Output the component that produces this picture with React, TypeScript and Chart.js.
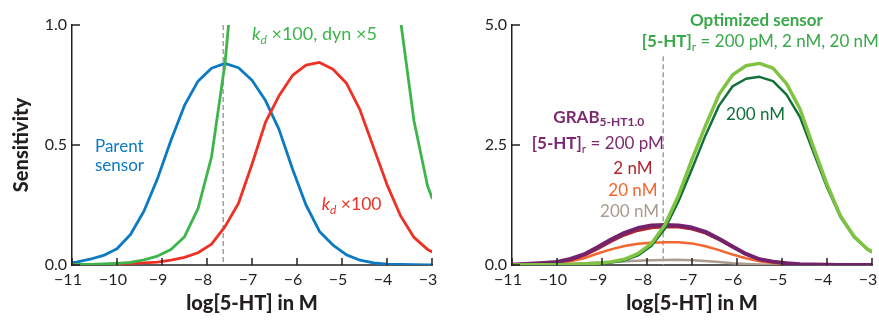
import React, { useEffect, useRef } from "react";
import { Chart, registerables } from "chart.js";

Chart.register(...registerables);

const FONT = "Lato, 'Open Sans', sans-serif";

// log10 of 5-HT concentration (M)
const LOG_CONC = [-11, -10.9, -10.6, -10.3, -10.0, -9.7, -9.4, -9.1, -8.8, -8.5, -8.2, -7.9, -7.6, -7.3, -7.0, -6.7, -6.4, -6.1, -5.8, -5.5, -5.2, -4.9, -4.6, -4.3, -4.0, -3.7, -3.4, -3.1, -3.0];

// Left panel
const PARENT = [0.01, 0.012, 0.024, 0.04, 0.068, 0.127, 0.225, 0.36, 0.52, 0.665, 0.766, 0.82, 0.84, 0.822, 0.77, 0.685, 0.565, 0.4, 0.25, 0.14, 0.083, 0.042, 0.02, 0.009, 0.004, 0.002, 0.001, 0, 0];
const KD100 = [0, 0.001, 0.002, 0.003, 0.005, 0.007, 0.009, 0.012, 0.02, 0.032, 0.051, 0.087, 0.16, 0.257, 0.42, 0.595, 0.705, 0.79, 0.833, 0.844, 0.816, 0.757, 0.646, 0.49, 0.335, 0.205, 0.115, 0.065, 0.055];
const KD100_DYN5 = [0, 0.002, 0.003, 0.005, 0.007, 0.011, 0.021, 0.037, 0.065, 0.118, 0.235, 0.45, 0.84, 1.45, 2.2, 2.9, 3.55, 3.96, 4.15, 4.2, 4.1, 3.78, 3.25, 2.45, 1.68, 1.02, 0.6, 0.33, 0.28];

// Right panel
const OPT_LOW = [0, 0.002, 0.003, 0.005, 0.007, 0.011, 0.021, 0.037, 0.065, 0.118, 0.235, 0.45, 0.84, 1.45, 2.2, 2.9, 3.55, 3.96, 4.15, 4.2, 4.1, 3.78, 3.25, 2.45, 1.68, 1.02, 0.6, 0.33, 0.28];
const OPT_200NM = [0, 0.001, 0.002, 0.003, 0.005, 0.008, 0.015, 0.028, 0.05, 0.095, 0.2, 0.4, 0.76, 1.33, 2.0, 2.7, 3.32, 3.72, 3.88, 3.92, 3.83, 3.55, 3.08, 2.35, 1.62, 1.0, 0.58, 0.32, 0.27];
const GRAB_200PM = [0.01, 0.012, 0.024, 0.042, 0.065, 0.125, 0.22, 0.37, 0.53, 0.67, 0.77, 0.825, 0.835, 0.825, 0.78, 0.69, 0.545, 0.385, 0.23, 0.12, 0.07, 0.035, 0.017, 0.008, 0.004, 0.002, 0.001, 0, 0];
const GRAB_2NM = [0.008, 0.01, 0.02, 0.036, 0.058, 0.11, 0.2, 0.335, 0.49, 0.625, 0.72, 0.775, 0.795, 0.79, 0.75, 0.665, 0.53, 0.375, 0.225, 0.118, 0.068, 0.034, 0.016, 0.008, 0.004, 0.002, 0.001, 0, 0];
const GRAB_20NM = [0.005, 0.008, 0.015, 0.025, 0.045, 0.08, 0.14, 0.24, 0.325, 0.395, 0.443, 0.465, 0.475, 0.475, 0.45, 0.39, 0.31, 0.22, 0.14, 0.08, 0.04, 0.018, 0.008, 0.004, 0.002, 0.001, 0, 0, 0];
const GRAB_200NM = [0, 0.002, 0.005, 0.008, 0.015, 0.025, 0.035, 0.05, 0.065, 0.078, 0.09, 0.1, 0.105, 0.108, 0.1, 0.085, 0.06, 0.035, 0.02, 0.01, 0.005, 0.002, 0.001, 0, 0, 0, 0, 0, 0];

// Reference line (ambient 5-HT)
const REF_LOG = -7.64;

const X_MIN = -11;
const X_MAX = -3;
const X_TICKS = [-11, -10, -9, -8, -7, -6, -5, -4, -3];
const LEFT_Y_TICKS = [0, 0.5, 1.0];
const RIGHT_Y_TICKS = [0, 2.5, 5.0];

type Seg = { t: string; b?: boolean; i?: boolean; sub?: boolean };
type Note = { x: number; y: number; color: string; size: number; segs: Seg[] };

const LEFT_NOTES: Note[] = [
  { x: -10.49, y: 0.471, color: "#0b7ac2", size: 17, segs: [{ t: "Parent" }] },
  { x: -10.49, y: 0.39, color: "#0b7ac2", size: 17, segs: [{ t: "sensor" }] },
  { x: -7.0, y: 0.9375, color: "#3db54a", size: 18, segs: [{ t: "k", i: true }, { t: "d", i: true, sub: true }, { t: " \u00d7100, dyn \u00d75" }] },
  { x: -5.45, y: 0.229, color: "#ee3124", size: 17.5, segs: [{ t: "k", i: true }, { t: "d", i: true, sub: true }, { t: " \u00d7100" }] },
];

const RIGHT_NOTES: Note[] = [
  { x: -7.044, y: 4.98, color: "#3aa84a", size: 17, segs: [{ t: "Optimized sensor", b: true }] },
  { x: -8.118, y: 4.54, color: "#3aa84a", size: 17, segs: [{ t: "[5-HT]", b: true }, { t: "r", sub: true }, { t: " = 200 pM, 2 nM, 20 nM" }] },
  { x: -6.244, y: 3.02, color: "#12703a", size: 17, segs: [{ t: "200 nM" }] },
  { x: -10.082, y: 2.965, color: "#7b2a70", size: 17, segs: [{ t: "GRAB", b: true }, { t: "5-HT1.0", b: true, sub: true }] },
  { x: -10.562, y: 2.41, color: "#7b2a70", size: 17, segs: [{ t: "[5-HT]", b: true }, { t: "r", sub: true }, { t: " = 200 pM" }] },
  { x: -8.749, y: 1.896, color: "#b1252e", size: 17, segs: [{ t: "2 nM" }] },
  { x: -8.86, y: 1.444, color: "#f26630", size: 17, segs: [{ t: "20 nM" }] },
  { x: -9.044, y: 0.994, color: "#a99b8f", size: 17, segs: [{ t: "200 nM" }] },
];

const pts = (arr: number[]) => LOG_CONC.map((x, i) => ({ x, y: arr[i] }));
const minus = (v: number) => (v < 0 ? "\u2212" + Math.abs(v) : String(v));

function makePlugins(notes: Note[], refTop: number) {
  return [
    {
      id: "refLine",
      beforeDatasetsDraw(chart: any) {
        const { ctx, scales, chartArea } = chart;
        const px = scales.x.getPixelForValue(REF_LOG);
        ctx.save();
        ctx.strokeStyle = "#9d9fa2";
        ctx.lineWidth = 1.5;
        ctx.setLineDash([5, 3]);
        ctx.beginPath();
        ctx.moveTo(px, scales.y.getPixelForValue(refTop));
        ctx.lineTo(px, chartArea.bottom);
        ctx.stroke();
        ctx.restore();
      },
    },
    {
      id: "innerTicks",
      afterDatasetsDraw(chart: any) {
        const { ctx, scales, chartArea } = chart;
        ctx.save();
        ctx.strokeStyle = "#231f20";
        ctx.lineWidth = 1.5;
        scales.x.ticks.forEach((t: any) => {
          const px = scales.x.getPixelForValue(t.value);
          ctx.beginPath();
          ctx.moveTo(px, chartArea.bottom);
          ctx.lineTo(px, chartArea.bottom - 7);
          ctx.stroke();
        });
        scales.y.ticks.forEach((t: any) => {
          const py = scales.y.getPixelForValue(t.value);
          ctx.beginPath();
          ctx.moveTo(chartArea.left, py);
          ctx.lineTo(chartArea.left + 8, py);
          ctx.stroke();
        });
        ctx.restore();
      },
    },
    {
      id: "notes",
      afterDraw(chart: any) {
        const { ctx, scales } = chart;
        ctx.save();
        notes.forEach((n) => {
          let px = scales.x.getPixelForValue(n.x);
          const py = scales.y.getPixelForValue(n.y);
          n.segs.forEach((s) => {
            const size = s.sub ? Math.round(n.size * 0.68) : n.size;
            ctx.font = `${s.i ? "italic " : ""}${s.b ? "bold " : ""}${size}px ${FONT}`;
            ctx.fillStyle = n.color;
            ctx.textBaseline = "alphabetic";
            ctx.textAlign = "left";
            ctx.fillText(s.t, px, py + (s.sub ? n.size * 0.22 : 0));
            px += ctx.measureText(s.t).width;
          });
        });
        ctx.restore();
      },
    },
  ];
}

function makeOptions(yMax: number, yTicks: number[], yTitle: string, padRight: number) {
  return {
    responsive: false,
    maintainAspectRatio: false,
    animation: false,
    devicePixelRatio: 1,
    layout: { padding: { left: 0, right: padRight, top: 25, bottom: 0 } },
    plugins: { legend: { display: false }, tooltip: { enabled: false } },
    elements: { point: { radius: 0 }, line: { tension: 0, borderJoinStyle: "round", borderCapStyle: "round" } },
    scales: {
      x: {
        type: "linear",
        min: X_MIN,
        max: X_MAX,
        afterBuildTicks: (s: any) => {
          s.ticks = X_TICKS.map((v) => ({ value: v }));
        },
        ticks: {
          color: "#231f20",
          font: { family: FONT, size: 16 },
          padding: 5,
          labelOffset: -4,
          maxRotation: 0,
          autoSkip: false,
          callback: (v: number) => minus(v),
        },
        grid: { display: false, drawTicks: false },
        border: { display: true, color: "#58595b", width: 2 },
        title: {
          display: true,
          text: "log[5-HT] in M",
          color: "#231f20",
          font: { family: FONT, size: 20, weight: "900" },
          padding: { top: 0, bottom: 5 },
        },
        afterFit: (s: any) => {
          s.height = 56;
          s.paddingLeft = 0;
          s.paddingRight = 0;
        },
      },
      y: {
        type: "linear",
        min: 0,
        max: yMax,
        afterBuildTicks: (s: any) => {
          s.ticks = yTicks.map((v) => ({ value: v }));
        },
        ticks: {
          color: "#231f20",
          font: { family: FONT, size: 16 },
          padding: 5,
          callback: (v: number) => v.toFixed(1),
        },
        grid: { display: false, drawTicks: false },
        border: { display: true, color: "#231f20", width: 1.5 },
        title: {
          display: yTitle !== "",
          text: yTitle,
          color: "#231f20",
          font: { family: FONT, size: 20, weight: "900" },
          padding: { top: 10, bottom: 0 },
        },
        afterFit: (s: any) => {
          s.width = 72;
          s.paddingTop = 0;
          s.paddingBottom = 0;
        },
      },
    },
  };
}

function line(label: string, data: number[], color: string, width: number) {
  return { label, data: pts(data), borderColor: color, backgroundColor: color, borderWidth: width, fill: false };
}

function LeftChart() {
  const ref = useRef<HTMLCanvasElement>(null);
  useEffect(() => {
    const chart = new Chart(ref.current as HTMLCanvasElement, {
      type: "line",
      data: {
        datasets: [
          line("kd x100, dyn x5", KD100_DYN5, "#3db54a", 2.8),
          line("kd x100", KD100, "#ee3124", 2.8),
          line("Parent sensor", PARENT, "#0b7ac2", 2.8),
        ],
      },
      options: makeOptions(1.0, LEFT_Y_TICKS, "Sensitivity", 8) as any,
      plugins: makePlugins(LEFT_NOTES, 1.0) as any,
    });
    return () => chart.destroy();
  }, []);
  return <canvas ref={ref} width={440} height={321} style={{ position: "absolute", left: 0, top: 0, width: 440, height: 321 }} />;
}

function RightChart() {
  const ref = useRef<HTMLCanvasElement>(null);
  useEffect(() => {
    const chart = new Chart(ref.current as HTMLCanvasElement, {
      type: "line",
      data: {
        datasets: [
          line("Optimized 200 pM, 2 nM, 20 nM", OPT_LOW, "#80c342", 3.5),
          line("Optimized 200 nM", OPT_200NM, "#12703a", 2.5),
          line("GRAB 200 pM", GRAB_200PM, "#74226c", 4),
          line("GRAB 2 nM", GRAB_2NM, "#b1252e", 3),
          line("GRAB 20 nM", GRAB_20NM, "#f26630", 2.5),
          line("GRAB 200 nM", GRAB_200NM, "#a99b8f", 2.5),
        ],
      },
      options: makeOptions(5.0, RIGHT_Y_TICKS, "", 7) as any,
      plugins: makePlugins(RIGHT_NOTES, 4.35) as any,
    });
    return () => chart.destroy();
  }, []);
  return <canvas ref={ref} width={439} height={321} style={{ position: "absolute", left: 440, top: 0, width: 439, height: 321 }} />;
}

export default function App() {
  return (
    <div style={{ position: "fixed", left: 0, top: 0, width: 879, height: 321, background: "#ffffff", overflow: "hidden" }}>
      <LeftChart />
      <RightChart />
    </div>
  );
}
